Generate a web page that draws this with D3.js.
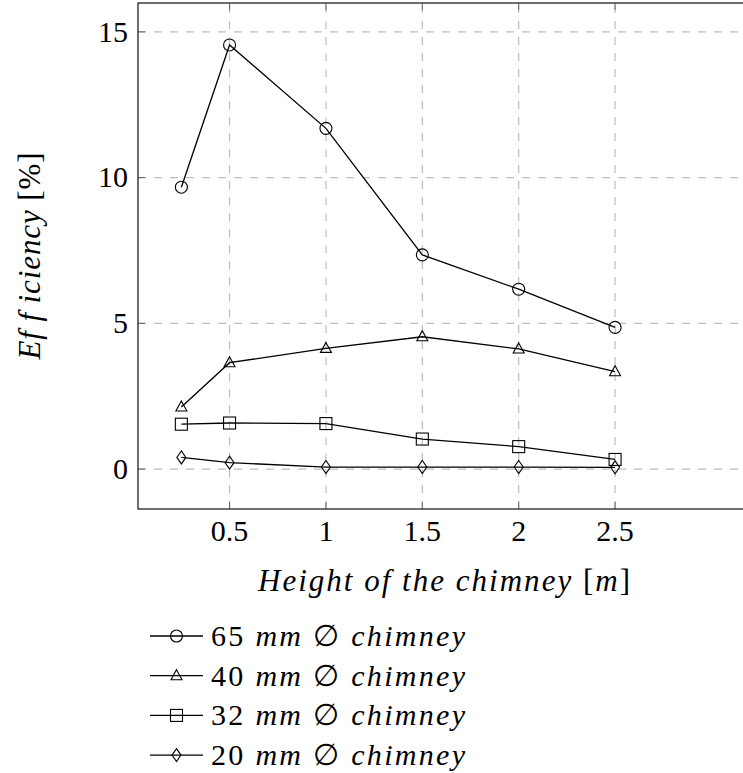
<!DOCTYPE html>
<html>
<head>
<meta charset="utf-8">
<title>Efficiency vs chimney height</title>
<script src="https://cdn.jsdelivr.net/npm/d3@7/dist/d3.min.js"></script>
<style>
  body { margin: 0; background: #fff; }
  svg text, svg tspan { font-family: "Liberation Serif", serif; fill: #000; }
  .it { font-style: italic; }
</style>
</head>
<body>
<script>
// data
var heights = [0.25, 0.5, 1, 1.5, 2, 2.5];
var eff65 = [9.67, 14.55, 11.69, 7.35, 6.17, 4.86];
var eff40 = [2.13, 3.65, 4.14, 4.54, 4.12, 3.34];
var eff32 = [1.54, 1.58, 1.56, 1.03, 0.77, 0.33];
var eff20 = [0.40, 0.22, 0.07, 0.07, 0.07, 0.06];
var seriesNames = ["65", "40", "32", "20"];
var seriesMarks = ["circle", "triangle", "square", "diamond"];
var xTicks = [0.5, 1, 1.5, 2, 2.5];
var yTicks = [0, 5, 10, 15];

(function () {
  var W = 743, H = 773;
  var pl = 138, pr = 750, pt = 3, pb = 509;
  var serif = "Liberation Serif";

  var svg = d3.select("body").append("svg").attr("width", W).attr("height", H);

  var x = d3.scaleLinear().domain([0.025, 3.2]).range([pl, pr]);
  var y = d3.scaleLinear().domain([-1.37, 15.99]).range([pb, pt]);

  // grid
  var grid = svg.append("g").attr("stroke", "#bdbdbd").attr("stroke-width", 1.2)
    .attr("stroke-dasharray", "8,8");
  grid.selectAll(".gx").data(xTicks).enter().append("line")
    .attr("x1", d => x(d)).attr("x2", d => x(d)).attr("y1", pb).attr("y2", pt);
  grid.selectAll(".gy").data(yTicks).enter().append("line")
    .attr("y1", d => y(d)).attr("y2", d => y(d)).attr("x1", pl).attr("x2", pr);

  // inner ticks
  var tk = svg.append("g").attr("stroke", "#666").attr("stroke-width", 1);
  xTicks.forEach(function (d) {
    tk.append("line").attr("x1", x(d)).attr("x2", x(d)).attr("y1", pb).attr("y2", pb - 7);
    tk.append("line").attr("x1", x(d)).attr("x2", x(d)).attr("y1", pt).attr("y2", pt + 7);
  });
  yTicks.forEach(function (d) {
    tk.append("line").attr("y1", y(d)).attr("y2", y(d)).attr("x1", pl).attr("x2", pl + 7);
    tk.append("line").attr("y1", y(d)).attr("y2", y(d)).attr("x1", pr).attr("x2", pr - 7);
  });

  // frame
  svg.append("rect").attr("x", pl).attr("y", pt).attr("width", pr - pl).attr("height", pb - pt)
    .attr("fill", "none").attr("stroke", "#222").attr("stroke-width", 1.3);

  // tick labels
  svg.append("g").selectAll("text").data(xTicks).enter().append("text")
    .attr("font-family", serif)
    .attr("x", d => x(d)).attr("y", 541).attr("text-anchor", "middle")
    .attr("font-size", 30).text(d => d);
  svg.append("g").selectAll("text").data(yTicks).enter().append("text")
    .attr("font-family", serif)
    .attr("x", 128).attr("y", d => y(d)).attr("dy", "0.33em").attr("text-anchor", "end")
    .attr("font-size", 30).text(d => d);

  // axis titles
  svg.append("text").attr("font-family", serif).attr("x", (pl + pr) / 2).attr("y", 591)
    .attr("text-anchor", "middle").attr("font-size", 31)
    .attr("textLength", 372).attr("lengthAdjust", "spacing")
    .call(function (t) {
      t.append("tspan").attr("class", "it").text("Height of the chimney ");
      t.append("tspan").text("[");
      t.append("tspan").attr("class", "it").text("m");
      t.append("tspan").text("]");
    });
  svg.append("text").attr("font-family", serif)
    .attr("transform", "translate(40," + (pt + pb) / 2 + ") rotate(-90)")
    .attr("text-anchor", "middle").attr("font-size", 31)
    .attr("textLength", 207).attr("lengthAdjust", "spacing")
    .call(function (t) {
      t.append("tspan").attr("class", "it").text("Ef f iciency ");
      t.append("tspan").text("[%]");
    });

  // markers
  function drawMark(g, kind, cx, cy) {
    var m;
    if (kind === "circle") {
      m = g.append("circle").attr("cx", cx).attr("cy", cy).attr("r", 6);
    } else if (kind === "triangle") {
      m = g.append("path").attr("d", "M" + cx + "," + (cy - 6) + "L" + (cx + 5.5) + "," + (cy + 4) +
        "L" + (cx - 5.5) + "," + (cy + 4) + "Z");
    } else if (kind === "square") {
      m = g.append("rect").attr("x", cx - 6).attr("y", cy - 6).attr("width", 12).attr("height", 12);
    } else {
      m = g.append("path").attr("d", "M" + cx + "," + (cy - 6.5) + "L" + (cx + 4.5) + "," + cy +
        "L" + cx + "," + (cy + 6.5) + "L" + (cx - 4.5) + "," + cy + "Z");
    }
    m.attr("fill", "none").attr("stroke", "#000").attr("stroke-width", 1.1);
  }

  var allSeries = [eff65, eff40, eff32, eff20];
  var line = d3.line().x(d => x(d[0])).y(d => y(d[1]));

  allSeries.forEach(function (vals, i) {
    var pts = heights.map((h, j) => [h, vals[j]]);
    var g = svg.append("g");
    g.append("path").attr("d", line(pts)).attr("fill", "none").attr("stroke", "#000").attr("stroke-width", 1.3);
    pts.forEach(p => drawMark(g, seriesMarks[i], x(p[0]), y(p[1])));
  });

  // legend
  var lg = svg.append("g");
  seriesNames.forEach(function (name, i) {
    var ly = 636 + i * 39.7;
    lg.append("line").attr("x1", 150).attr("x2", 203).attr("y1", ly).attr("y2", ly)
      .attr("stroke", "#000").attr("stroke-width", 1.3);
    drawMark(lg, seriesMarks[i], 176.5, ly);
    var t = lg.append("text").attr("font-family", serif).attr("x", 211).attr("y", ly + 10)
      .attr("font-size", 30).attr("textLength", 254).attr("lengthAdjust", "spacing");
    t.append("tspan").text(name + " ");
    t.append("tspan").attr("class", "it").text("mm");
    t.append("tspan").text(" \u2205 ");
    t.append("tspan").attr("class", "it").text("chimney");
  });
})();
</script>
</body>
</html>
